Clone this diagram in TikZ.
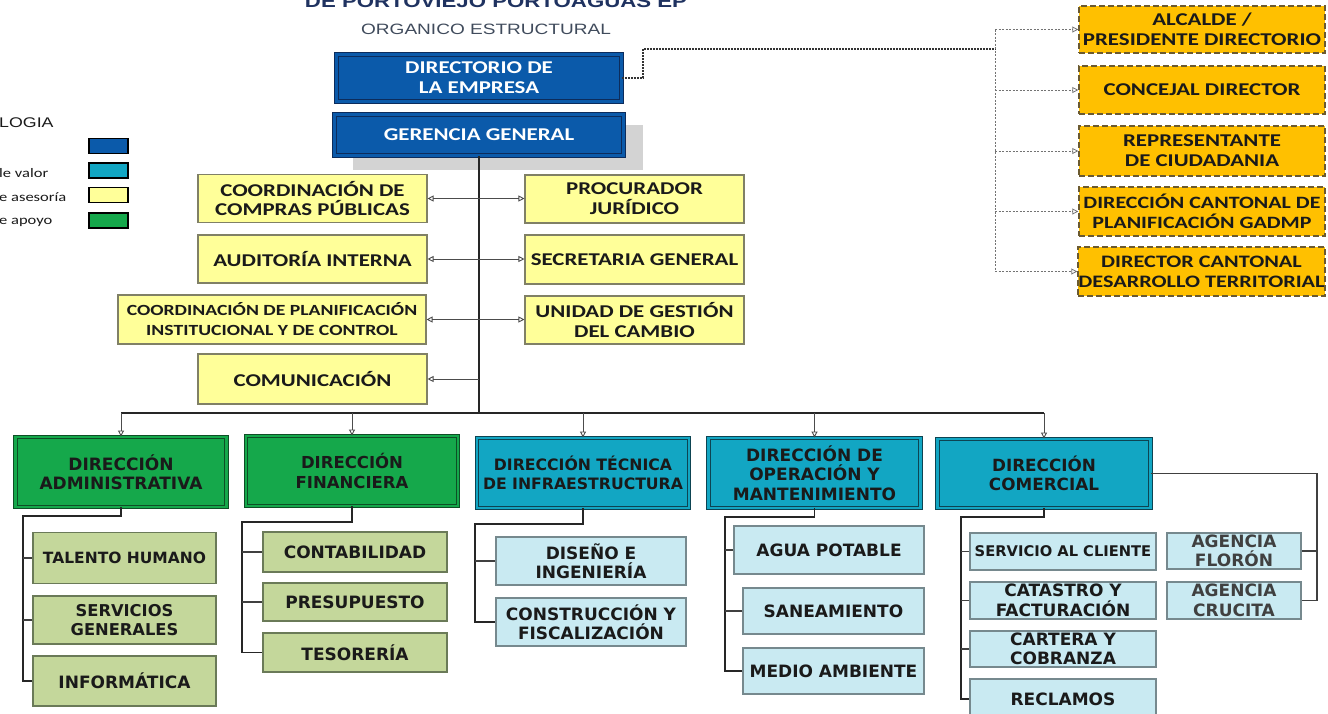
\documentclass[tikz,border=0pt]{standalone}
\usepackage{fontspec}
\setmainfont{Liberation Sans}
\newfontfamily\fcal[FakeStretch=1.27]{Carlito}
\newfontfamily\farl[FakeStretch=1.27]{Liberation Sans}
\newfontfamily\fdv{DejaVu Sans}
\usetikzlibrary{arrows.meta}
\definecolor{cNavy}{HTML}{0B5AAA}
\definecolor{cNavyD}{HTML}{0C2C5C}
\definecolor{cGrn}{HTML}{15A84B}
\definecolor{cGrnD}{HTML}{0E4F26}
\definecolor{cTeal}{HTML}{12A6C3}
\definecolor{cTealD}{HTML}{0D4452}
\definecolor{cYel}{HTML}{FFFF99}
\definecolor{cYelD}{HTML}{808066}
\definecolor{cOrg}{HTML}{FFC000}
\definecolor{cOrgD}{HTML}{6B5A30}
\definecolor{cLg}{HTML}{C4D79B}
\definecolor{cLgD}{HTML}{6A7A58}
\definecolor{cLb}{HTML}{C9EAF2}
\definecolor{cLbD}{HTML}{76898E}
\definecolor{cTxt}{HTML}{1A1A1A}
\definecolor{cTitle}{HTML}{1F3260}
\definecolor{cSub}{HTML}{404B5C}
\definecolor{cShadow}{HTML}{D3D3D3}
\tikzset{
  box/.style={inner sep=0pt, align=center},
  fsd/.style={font=\fdv\bfseries\fontsize{#1}{19.5}\selectfont},
  fsc/.style={font=\fcal\bfseries\fontsize{#1}{20}\selectfont},
  govbox/.style={box, draw=cNavyD, fill=cNavy, line width=0.9pt, double=cNavy, double distance=2.4pt, text=white, fsc=18},
  yelbox/.style={box, draw=cYelD, fill=cYel, line width=1.1pt, text=cTxt, fsc=18},
  orgbox/.style={box, draw=cOrgD, fill=cOrg, line width=1.4pt, dash pattern=on 6pt off 3pt, text=cTxt, fsc=18},
  grnbox/.style={box, draw=cGrnD, fill=cGrn, line width=0.9pt, double=cGrn, double distance=2.4pt, text=cTxt, fsd=17},
  tealbox/.style={box, draw=cTealD, fill=cTeal, line width=0.9pt, double=cTeal, double distance=2.4pt, text=cTxt, fsd=17},
  lgbox/.style={box, draw=cLgD, fill=cLg, line width=1.1pt, text=cTxt, fsd=17},
  lbbox/.style={box, draw=cLbD, fill=cLb, line width=1.1pt, text=cTxt, fsd=17},
  conn/.style={draw=black!85, line width=1.6pt},
  branch/.style={draw=black!75, line width=1.1pt},
  arr/.style={draw=black!70, line width=0.9pt, -{Triangle[open,length=6pt,width=6pt]}},
  darr/.style={draw=black!70, line width=0.9pt, {Triangle[open,length=6pt,width=6pt]}-{Triangle[open,length=6pt,width=6pt]}},
  dsharr/.style={draw=black!55, line width=0.8pt, dash pattern=on 2pt off 1.5pt, -{Triangle[open,length=6pt,width=6pt]}},
  dshline/.style={draw=black!55, line width=0.8pt, dash pattern=on 2pt off 1.5pt},
  dshthick/.style={draw=black!80, line width=2pt, dash pattern=on 2pt off 1pt},
  legbox/.style={draw=black, line width=1.8pt, minimum width=39pt, minimum height=15pt, inner sep=0pt},
  leglab/.style={anchor=west, inner sep=0pt, text=cTxt, font=\fcal\fontsize{13}{15}\selectfont},
}
\begin{document}
\begin{tikzpicture}[x=1pt,y=-1pt]
\useasboundingbox (0,0) rectangle (1328,713);
\clip (0,0) rectangle (1328,713);
% titles
\node[anchor=base, text=cTitle, font=\farl\bfseries\fontsize{17.5}{20}\selectfont] (title) at (496,7) {DE PORTOVIEJO PORTOAGUAS EP};
\node[text=cSub, inner sep=0pt, font=\farl\fontsize{15}{18}\selectfont] (sub) at (486,29.5) {ORGANICO ESTRUCTURAL};
% legend
\node[anchor=west, inner sep=0pt, text=cTxt, font=\farl\fontsize{14}{16}\selectfont] (lgt) at (-1,123) {LOGIA};
\node[legbox, fill=cNavy] (lg1) at (108.5,146) {};
\node[legbox, fill=cTeal] (lg2) at (108.5,170.5) {};
\node[legbox, fill=cYel] (lg3) at (108.5,195) {};
\node[legbox, fill=cGrn] (lg4) at (108.5,220.5) {};
\node[leglab] (ll2) at (-1,173) {le valor};
\node[leglab] (ll3) at (-1,197) {e asesoría};
\node[leglab] (ll4) at (-1,222) {e apoyo};
% top
\node[govbox, minimum width=285pt, minimum height=47pt] (dir) at (479,78) {DIRECTORIO DE\\LA EMPRESA};
\node[fill=cShadow, minimum width=290pt, minimum height=45pt, inner sep=0pt] (shadow) at (498,147.5) {};
\node[govbox, minimum width=289pt, minimum height=41pt] (ger) at (479,135) {GERENCIA GENERAL};
% staff
\node[yelbox, minimum width=229pt, minimum height=48pt] (comp) at (312.5,198.5) {COORDINACIÓN DE\\COMPRAS PÚBLICAS};
\node[yelbox, minimum width=229pt, minimum height=48pt] (aud) at (312.5,259) {AUDITORÍA INTERNA};
\node[yelbox, fsc=15.5, minimum width=308pt, minimum height=49pt] (plan) at (272,319.5) {COORDINACIÓN DE PLANIFICACIÓN\\INSTITUCIONAL Y DE CONTROL};
\node[yelbox, minimum width=229pt, minimum height=50pt] (comu) at (312.5,379) {COMUNICACIÓN};
\node[yelbox, minimum width=219pt, minimum height=48pt] (proc) at (634.5,199) {PROCURADOR\\JURÍDICO};
\node[yelbox, minimum width=219pt, minimum height=49pt] (sec) at (634.5,259.5) {SECRETARIA GENERAL};
\node[yelbox, minimum width=219pt, minimum height=48pt] (uni) at (634.5,320) {UNIDAD DE GESTIÓN\\DEL CAMBIO};
% board
\node[orgbox, minimum width=246pt, minimum height=47pt] (alc) at (1202,29.5) {ALCALDE /\\PRESIDENTE DIRECTORIO};
\node[orgbox, minimum width=246pt, minimum height=48pt] (conc) at (1202,90) {CONCEJAL DIRECTOR};
\node[orgbox, minimum width=246pt, minimum height=50pt] (rep) at (1202,151) {REPRESENTANTE\\DE CIUDADANIA};
\node[orgbox, fsc=17.3, minimum width=246pt, minimum height=49pt] (dcp) at (1202,211.5) {DIRECCIÓN CANTONAL DE\\PLANIFICACIÓN GADMP};
\node[orgbox, fsc=17.5, minimum width=247pt, minimum height=49pt] (dct) at (1201.5,271.5) {DIRECTOR CANTONAL\\DESARROLLO TERRITORIAL};
% directions
\node[grnbox, minimum width=211pt, minimum height=70pt] (adm) at (121,472) {DIRECCIÓN\\ADMINISTRATIVA};
\node[grnbox, fsd=16.5, minimum width=212pt, minimum height=70pt] (fin) at (352,471) {DIRECCIÓN\\FINANCIERA};
\node[tealbox, fsd=15.7, minimum width=212pt, minimum height=70pt] (tec) at (583,473) {DIRECCIÓN TÉCNICA\\DE INFRAESTRUCTURA};
\node[tealbox, minimum width=212pt, minimum height=70pt] (op) at (814.5,473) {DIRECCIÓN DE\\OPERACIÓN Y\\MANTENIMIENTO};
\node[tealbox, fsd=16.8, minimum width=213pt, minimum height=69pt] (com) at (1044,473.5) {DIRECCIÓN\\COMERCIAL};
% adm subs
\node[lgbox, fsd=15.5, minimum width=183pt, minimum height=51pt] (th) at (124.5,558) {TALENTO HUMANO};
\node[lgbox, fsd=16.3, minimum width=183pt, minimum height=48pt] (sg) at (124.5,620) {SERVICIOS\\GENERALES};
\node[lgbox, minimum width=183pt, minimum height=50pt] (inf) at (124.5,681) {INFORMÁTICA};
% fin subs
\node[lgbox, minimum width=184pt, minimum height=40pt] (cont) at (355,552) {CONTABILIDAD};
\node[lgbox, minimum width=184pt, minimum height=38pt] (pres) at (355,602) {PRESUPUESTO};
\node[lgbox, minimum width=184pt, minimum height=39pt] (tes) at (355,652.5) {TESORERÍA};
% tec subs
\node[lbbox, minimum width=190pt, minimum height=48pt] (dis) at (591,561) {DISEÑO E\\INGENIERÍA};
\node[lbbox, minimum width=190pt, minimum height=48pt] (cons) at (591,622) {CONSTRUCCIÓN Y\\FISCALIZACIÓN};
% op subs
\node[lbbox, minimum width=190pt, minimum height=48pt] (agua) at (829,550) {AGUA POTABLE};
\node[lbbox, minimum width=181pt, minimum height=46pt] (san) at (833.5,611) {SANEAMIENTO};
\node[lbbox, minimum width=181pt, minimum height=46pt] (med) at (833.5,671) {MEDIO AMBIENTE};
% com subs
\node[lbbox, fsd=14.7, minimum width=186pt, minimum height=37pt] (sac) at (1063,551.5) {SERVICIO AL CLIENTE};
\node[lbbox, minimum width=186pt, minimum height=37pt] (cat) at (1063,600.5) {CATASTRO Y\\FACTURACIÓN};
\node[lbbox, minimum width=186pt, minimum height=36pt] (car) at (1063,649) {CARTERA Y\\COBRANZA};
\node[lbbox, minimum width=186pt, minimum height=40pt] (rec) at (1063,699) {RECLAMOS};
\node[lbbox, text=black!75, minimum width=134pt, minimum height=36pt] (flo) at (1234,551) {AGENCIA\\FLORÓN};
\node[lbbox, text=black!75, minimum width=134pt, minimum height=37pt] (cru) at (1234,600.5) {AGENCIA\\CRUCITA};
% coordinates
\coordinate (bus) at (479,413);
\coordinate (admL) at (23,516);
\coordinate (finL) at (242,522);
\coordinate (tecL) at (475,524);
\coordinate (opL) at (725,517);
\coordinate (comL) at (961,517);
\coordinate (comR) at (1317,473.5);
\coordinate (dj) at (643,49);
\coordinate (dT) at (995,49);
% main trunk
\draw[conn] (ger.south) -- (bus);
\draw[conn] (adm.north |- bus) -- (com.north |- bus);
\foreach \n in {adm,fin,tec,op,com} \draw[arr] (\n.north |- bus) -- (\n.north);
\draw[darr] (comp.east) -- (comp.east -| proc.west);
\draw[darr] (aud.east) -- (aud.east -| sec.west);
\draw[darr] (plan.east) -- (plan.east -| uni.west);
\draw[arr] (ger.south |- comu.east) -- (comu.east);
% dashed board links
\draw[dshthick] (dir.east) -| (dj) -- (dT);
\draw[dshline] (dT |- alc.west) -- (dT |- dct.west);
\foreach \n in {alc,conc,rep,dcp,dct} \draw[dsharr] (dT |- \n.west) -- (\n.west);
% sub trees
\draw[conn] (adm.south) |- (admL) |- (inf.west);
\foreach \n in {th,sg} \draw[branch] (admL |- \n.west) -- (\n.west);
\draw[conn] (fin.south) |- (finL) |- (tes.west);
\foreach \n in {cont,pres} \draw[branch] (finL |- \n.west) -- (\n.west);
\draw[conn] (tec.south) |- (tecL) |- (cons.west);
\foreach \n in {dis} \draw[branch] (tecL |- \n.west) -- (\n.west);
\draw[conn] (op.south) |- (opL) |- (med.west);
\foreach \n in {agua,san} \draw[branch] (opL |- \n.west) -- (\n.west);
\draw[conn] (com.south) |- (comL) |- (rec.west);
\foreach \n in {sac,cat,car} \draw[branch] (comL |- \n.west) -- (\n.west);
\draw[branch] (com.east) -- (comR) |- (cru.east);
\draw[branch] (comR |- flo.east) -- (flo.east);
\end{tikzpicture}
\end{document}
